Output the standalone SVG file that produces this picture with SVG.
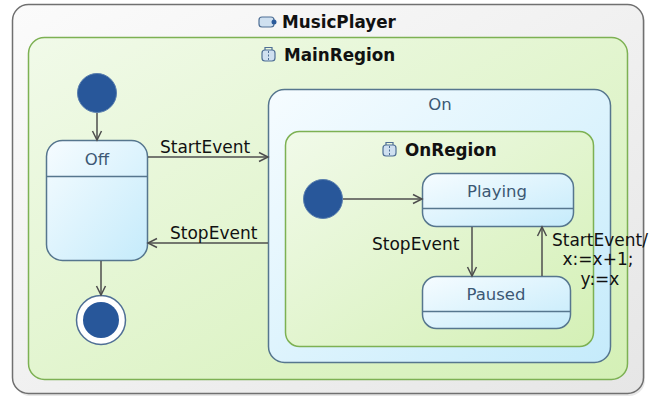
<svg xmlns="http://www.w3.org/2000/svg" width="668" height="398" viewBox="0 0 668 398">
<defs>
<linearGradient id="gGray" x1="0" y1="0" x2="1" y2="1"><stop offset="0" stop-color="#fbfbfb"/><stop offset="1" stop-color="#e6e6e6"/></linearGradient>
<linearGradient id="gGreen" x1="0" y1="0" x2="1" y2="1"><stop offset="0" stop-color="#f1fae9"/><stop offset="1" stop-color="#d4f0b6"/></linearGradient>
<linearGradient id="gBlue" x1="0" y1="0" x2="1" y2="1"><stop offset="0" stop-color="#f6fcff"/><stop offset="1" stop-color="#c5ebfb"/></linearGradient>
<marker id="arr" markerWidth="12" markerHeight="12" refX="10" refY="6" orient="auto" markerUnits="userSpaceOnUse"><path d="M1,1.5 L10,6 L1,10.5" fill="none" stroke="#4e4e4e" stroke-width="1.5"/></marker>
</defs>
<style>
.frame{fill:url(#gGray);stroke:#707070;stroke-width:1.5}
.region{fill:url(#gGreen);stroke:#7db153;stroke-width:1.5}
.state{fill:url(#gBlue);stroke:#56768e;stroke-width:1.5}
.div{stroke:#56768e;stroke-width:1.5}
.init{fill:#28579a;stroke:#5a7fae;stroke-width:1}
.title{font-family:"DejaVu Sans",sans-serif;font-weight:bold;font-size:16.8px;fill:#111}
.sname{font-family:"DejaVu Sans",sans-serif;font-size:16.5px;fill:#3c5874;text-anchor:middle}
.lbl{font-family:"DejaVu Sans",sans-serif;font-size:17px;fill:#111}
.edge{fill:none;stroke:#4e4e4e;stroke-width:1.5;marker-end:url(#arr)}
.icon{fill:#cfe0f0;stroke:#4f6f95;stroke-width:1.2}
</style>

<g id="MusicPlayer">
<rect x="14" y="6" width="631" height="390" rx="16" fill="#cfcfcf" opacity="0.5"/>
<rect class="frame" x="12.5" y="4.5" width="631" height="389" rx="16"/>
<rect class="icon" x="259" y="17" width="15" height="10" rx="3"/>
<circle cx="274" cy="22" r="2.5" fill="#2a5a9a"/>
<text class="title" x="282" y="28">MusicPlayer</text>
</g>

<g id="MainRegion">
<rect class="region" x="28.5" y="37.5" width="599" height="342" rx="16"/>
<rect class="icon" x="262" y="50" width="13" height="11" rx="3"/>
<path d="M265,50 v-2.5 h7 v2.5" fill="none" stroke="#4f6f95" stroke-width="1.2"/>
<line x1="268.5" y1="51" x2="268.5" y2="60" stroke="#4f6f95" stroke-width="1" stroke-dasharray="2,1.5"/>
<text class="title" x="284" y="61">MainRegion</text>
</g>

<g id="MainInitial"><circle class="init" cx="97" cy="93" r="19.5"/></g>

<g id="Off">
<rect class="state" x="46.5" y="140.5" width="101" height="120" rx="16"/>
<line class="div" x1="46.5" y1="176.5" x2="147.5" y2="176.5"/>
<text class="sname" x="97" y="165">Off</text>
</g>

<g id="Final">
<circle cx="101" cy="320" r="24.5" fill="#ffffff" stroke="#4f6f95" stroke-width="1.5"/>
<circle cx="101" cy="320" r="18" fill="#28579a"/>
</g>

<g id="On">
<rect class="state" x="268.5" y="89.5" width="342" height="273" rx="16"/>
<text class="sname" x="440" y="110">On</text>
</g>

<g id="OnRegion">
<rect class="region" x="285.5" y="131.5" width="308" height="215" rx="14"/>
<rect class="icon" x="383" y="145" width="13" height="11" rx="3"/>
<path d="M386,145 v-2.5 h7 v2.5" fill="none" stroke="#4f6f95" stroke-width="1.2"/>
<line x1="389.5" y1="146" x2="389.5" y2="155" stroke="#4f6f95" stroke-width="1" stroke-dasharray="2,1.5"/>
<text class="title" x="405" y="156">OnRegion</text>
</g>

<g id="OnInitial"><circle class="init" cx="323" cy="199" r="19.5"/></g>

<g id="Playing">
<rect class="state" x="422.5" y="173.5" width="151" height="53" rx="14"/>
<line class="div" x1="422.5" y1="208.5" x2="573.5" y2="208.5"/>
<text class="sname" x="497" y="197">Playing</text>
</g>

<g id="Paused">
<rect class="state" x="422.5" y="276.5" width="148" height="52" rx="14"/>
<line class="div" x1="422.5" y1="311.5" x2="570.5" y2="311.5"/>
<text class="sname" x="496" y="300">Paused</text>
</g>

<g id="connectors">
<line class="edge" x1="97" y1="113" x2="97" y2="140"/>
<line class="edge" x1="101" y1="261" x2="101" y2="295"/>
<line class="edge" x1="148" y1="157" x2="268" y2="157"/>
<line class="edge" x1="268" y1="243" x2="148" y2="243"/>
<line class="edge" x1="343" y1="199" x2="422" y2="199"/>
<line class="edge" x1="472" y1="227" x2="472" y2="276"/>
<line class="edge" x1="542" y1="276" x2="542" y2="227"/>
<text class="lbl" x="160" y="153">StartEvent</text>
<text class="lbl" x="170" y="239">StopEvent</text>
<text class="lbl" x="372" y="250">StopEvent</text>
<text class="lbl" x="552" y="246">StartEvent/</text>
<text class="lbl" x="598" y="265" text-anchor="middle">x:=x+1;</text>
<text class="lbl" x="600" y="285" text-anchor="middle">y:=x</text>
</g>
</svg>
